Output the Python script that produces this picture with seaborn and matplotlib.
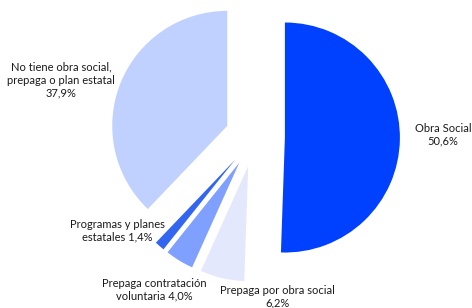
import matplotlib
matplotlib.use("Agg")
import matplotlib.pyplot as plt
import seaborn as sns

sns.set_theme(style="white")
plt.rcParams['font.family'] = ['Lato', 'DejaVu Sans']

categories = ["Obra Social", "Prepaga por obra social", "Prepaga contratación voluntaria",
              "Programas y planes estatales", "No tiene obra social, prepaga o plan estatal"]
values = [50.6, 6.2, 4.0, 1.4, 37.9]
label_texts = ["Obra Social\n50,6%", "Prepaga por obra social\n6,2%",
               "Prepaga contratación\nvoluntaria 4,0%", "Programas y planes\nestatales 1,4%",
               "No tiene obra social,\nprepaga o plan estatal\n37,9%"]
colors = ["#0040FF", "#E4E8FC", "#80A0FF", "#3366F0", "#C0D0FF"]

# layout (pixels)
W, H = 472, 308
R_PX = 115.0
CX, CY = 255.0, 137.0  # pie centre, from top-left
label_pos = [(443, 135), (277, 297), (154, 290), (117, 231), (61, 80)]

fig = plt.figure(figsize=(W / 100, H / 100), dpi=100)
fig.patch.set_facecolor("white")
a, b = 1.6, 1.3
ax_w, ax_h = 2 * a * R_PX, 2 * b * R_PX
left = (CX - ax_w / 2) / W
bottom = ((H - CY) - ax_h / 2) / H
ax = fig.add_axes([left, bottom, ax_w / W, ax_h / H])

ax.pie(values, colors=colors, startangle=90, counterclock=False,
       explode=[0.26] * len(values), radius=1.0,
       wedgeprops=dict(linewidth=0))
ax.set_xlim(-a, a)
ax.set_ylim(-b, b)
ax.set_aspect("equal")
ax.axis("off")

for txt, (px, py) in zip(label_texts, label_pos):
    fig.text(px / W, 1 - py / H, txt, ha="center", va="center",
             fontsize=8, color="#1a1a1a", linespacing=1.2)

fig.savefig("out.png", dpi=100, facecolor="white")
